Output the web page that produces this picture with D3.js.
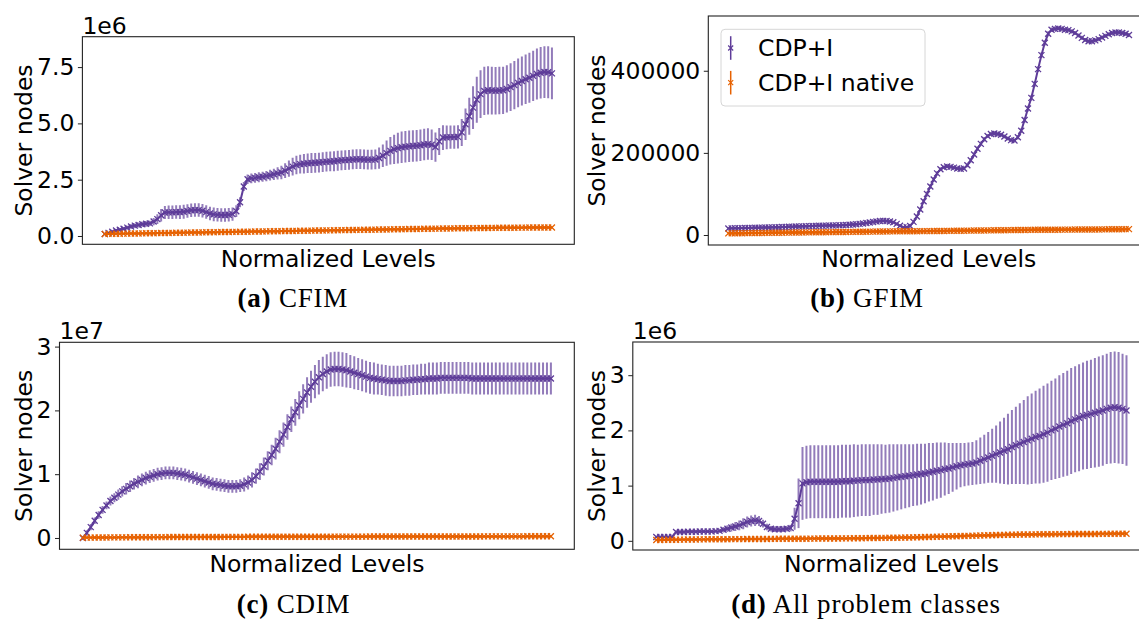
<!DOCTYPE html>
<html>
<head>
<meta charset="utf-8">
<script src="https://cdn.jsdelivr.net/npm/d3@7"></script>
<style>
  body { margin: 0; background: #fff; }
  svg { display: block; }
</style>
</head>
<body>
<svg id="fig" width="1139" height="619"></svg>
<script>
// ---- data -------------------------------------------------------------
// 120 normalized levels per problem class; mean solver nodes and std dev.
const N = 120;
const levels = d3.range(N);

// (a) CFIM, values in thousands of nodes
const cfimUnit = 1e3;
const cfimMean = [
  90,140,190,240,280,320,370,420,460,490,
  520,540,560,640,750,920,1040,1050,1050,1060,
  1060,1080,1110,1140,1150,1150,1120,1060,1000,960,
  940,930,930,940,970,1100,1500,2200,2520,2560,
  2580,2610,2630,2660,2700,2740,2780,2820,2900,2990,
  3080,3150,3190,3210,3230,3240,3250,3260,3280,3300,
  3310,3320,3340,3360,3370,3380,3400,3410,3410,3400,
  3390,3390,3400,3460,3560,3680,3780,3850,3900,3940,
  3960,3980,4000,4010,4030,4060,4080,4050,3950,4200,
  4370,4380,4390,4390,4400,4600,4960,5320,5700,6050,
  6300,6440,6470,6460,6450,6460,6470,6530,6610,6700,
  6800,6880,6960,7030,7110,7190,7250,7280,7270,7220];
const cfimStd = [
  40,50,60,70,80,80,90,100,100,110,
  110,120,120,160,220,280,290,300,300,300,
  310,310,300,300,300,300,300,300,300,300,
  300,300,300,300,290,260,220,200,210,220,
  220,220,220,230,240,250,270,300,330,360,
  390,410,420,430,430,440,440,440,440,440,
  440,440,440,440,440,440,440,440,440,440,
  440,440,440,470,500,560,610,650,680,700,
  700,700,700,700,700,700,700,680,650,600,
  550,530,520,520,520,600,700,820,950,1020,
  1060,1070,1070,1060,1050,1050,1050,1050,1060,1070,
  1080,1090,1100,1110,1120,1130,1140,1150,1150,1150];
const cfimNativeMean = [
  90,93,95,98,101,104,106,109,112,114,
  117,120,123,125,128,131,133,136,139,141,
  144,147,150,152,155,158,160,163,166,168,
  171,174,176,179,182,184,187,190,192,195,
  198,200,203,206,208,211,214,216,219,222,
  224,227,230,232,235,238,240,243,246,248,
  251,254,256,259,262,264,267,270,272,275,
  278,280,283,286,288,291,294,296,299,302,
  304,307,310,312,315,318,320,323,326,328,
  331,333,336,338,340,343,345,347,349,351,
  353,355,357,359,361,363,364,366,367,369,
  370,371,373,374,375,376,377,378,379,380];
const cfimNativeStd = [
  15,15,16,16,17,17,18,18,19,19,
  20,20,21,21,22,22,23,23,24,24,
  25,25,25,26,26,26,27,27,27,28,
  28,28,29,29,29,30,30,30,30,31,
  31,31,31,32,32,32,32,33,33,33,
  33,34,34,34,34,35,35,35,35,35,
  36,36,36,36,36,37,37,37,37,37,
  38,38,38,38,38,38,39,39,39,39,
  39,39,40,40,40,40,40,40,40,41,
  41,41,41,41,41,41,42,42,42,42,
  42,42,42,42,43,43,43,43,43,43,
  43,43,44,44,44,44,44,44,44,44];

// (b) GFIM, values in thousands of nodes
const gfimUnit = 1e3;
const gfimMean = [
  16.0,16.2,16.4,16.6,16.8,17.0,17.2,17.4,17.6,17.8,
  18.0,18.2,18.4,18.6,18.8,19.0,19.3,19.6,19.9,20.2,
  20.5,20.8,21.1,21.4,21.7,22.0,22.3,22.5,22.7,22.9,
  23.1,23.3,23.5,23.8,24.1,24.5,25.0,25.6,26.3,27.0,
  28.0,29.2,30.5,31.8,33.0,34.0,34.4,34.0,33.0,31.0,
  27.0,22.5,18.5,19.0,22.0,32.0,45.0,62.0,82.0,100.0,
  118.0,135.0,150.0,160.0,165.0,167.0,166.0,164.0,162.0,161.0,
  162.0,170.0,182.0,196.0,210.0,222.0,233.0,241.0,246.0,247.0,
  246.0,244.0,240.0,235.0,231.0,230.0,238.0,254.0,280.0,308.0,
  334.0,368.0,404.0,438.0,468.0,490.0,500.0,502.0,503.0,502.0,
  500.0,499.0,496.0,492.0,486.0,480.0,475.0,472.0,472.0,474.0,
  477.0,481.0,485.0,489.0,492.0,493.0,493.0,492.0,490.0,487.0];
const gfimStd = [
  2.0,2.0,2.0,2.1,2.1,2.1,2.2,2.2,2.2,2.3,
  2.3,2.3,2.4,2.4,2.4,2.5,2.5,2.5,2.6,2.6,
  2.6,2.7,2.7,2.7,2.8,2.8,2.8,2.9,2.9,2.9,
  3.0,3.0,3.0,3.1,3.1,3.2,3.2,3.3,3.4,3.5,
  3.6,3.7,3.8,3.9,4.0,4.0,4.0,4.0,3.9,3.8,
  3.6,3.3,3.0,3.2,3.5,4.0,4.5,5.0,5.5,6.0,
  6.0,6.0,5.5,5.0,4.5,4.5,4.5,4.5,4.5,4.5,
  4.5,5.0,5.5,5.5,5.5,5.5,5.5,5.0,5.0,5.0,
  5.0,5.0,5.0,5.0,5.0,5.0,5.5,6.0,6.5,7.0,
  7.0,7.0,7.0,7.0,6.5,6.0,5.5,5.0,5.0,5.0,
  5.0,5.0,5.0,5.0,5.0,5.0,5.0,5.0,5.0,5.0,
  5.0,5.0,5.0,5.0,5.0,5.0,5.0,5.0,5.0,5.0];
const gfimNativeMean = [
  4.0,4.1,4.2,4.3,4.4,4.5,4.6,4.7,4.8,4.9,
  5.0,5.1,5.2,5.3,5.4,5.5,5.6,5.7,5.8,5.9,
  6.0,6.1,6.2,6.3,6.4,6.5,6.6,6.7,6.8,6.9,
  7.0,7.1,7.2,7.3,7.4,7.5,7.6,7.7,7.8,7.9,
  8.0,8.1,8.2,8.3,8.4,8.5,8.6,8.7,8.8,8.9,
  9.0,9.1,9.1,9.2,9.2,9.3,9.3,9.4,9.4,9.5,
  9.5,9.6,9.7,9.8,9.9,10.0,10.1,10.2,10.3,10.4,
  10.5,10.6,10.7,10.8,10.9,11.0,11.1,11.2,11.3,11.4,
  11.5,11.6,11.7,11.8,11.9,12.0,12.1,12.2,12.3,12.4,
  12.5,12.6,12.6,12.7,12.7,12.8,12.8,12.9,12.9,13.0,
  13.0,13.1,13.1,13.2,13.2,13.3,13.3,13.4,13.5,13.6,
  13.6,13.7,13.8,13.9,14.0,14.0,14.1,14.2,14.3,14.4];
const gfimNativeStd = [
  3.0,3.0,3.0,3.0,3.1,3.1,3.1,3.1,3.1,3.2,
  3.2,3.2,3.2,3.2,3.2,3.3,3.3,3.3,3.3,3.3,
  3.3,3.3,3.4,3.4,3.4,3.4,3.4,3.4,3.4,3.4,
  3.5,3.5,3.5,3.5,3.5,3.5,3.5,3.5,3.5,3.5,
  3.5,3.6,3.6,3.6,3.6,3.6,3.6,3.6,3.6,3.6,
  3.6,3.6,3.6,3.7,3.7,3.7,3.7,3.7,3.7,3.7,
  3.7,3.7,3.7,3.7,3.7,3.8,3.8,3.8,3.8,3.8,
  3.8,3.8,3.8,3.8,3.8,3.8,3.8,3.9,3.9,3.9,
  3.9,3.9,3.9,3.9,3.9,3.9,3.9,3.9,3.9,3.9,
  4.0,4.0,4.0,4.0,4.0,4.0,4.0,4.0,4.0,4.0,
  4.0,4.0,4.0,4.0,4.0,4.0,4.0,4.0,4.0,4.0,
  4.0,4.0,4.0,4.0,4.0,4.0,4.0,4.0,4.0,4.0];

// (c) CDIM, values in hundreds of thousands of nodes
const cdimUnit = 1e5;
const cdimMean = [
  0,8,17,27,36,44,51,58,63,68,
  73,77,81,85,88,91,94,96,98,100,
  101,102,102,102,101,100,99,97,95,93,
  91,89,87,85,84,83,82,81,81,81,
  82,84,87,91,97,104,112,121,130,140,
  151,162,174,186,197,208,218,228,237,245,
  252,257,261,264,265,265,264,263,261,259,
  257,255,253,251,250,249,248,247,246,246,
  246,246,247,247,248,248,249,249,250,250,
  250,251,251,251,251,251,251,251,251,250,
  250,250,250,250,250,250,250,250,250,250,
  250,250,250,250,250,250,250,250,250,250];
const cdimStd = [
  3,4,5,5,6,6,6,7,7,8,
  8,9,9,9,10,10,10,10,10,10,
  10,10,10,10,10,10,10,10,10,10,
  10,10,10,10,10,10,10,10,10,10,
  10,11,11,12,12,13,14,15,16,17,
  18,19,20,20,21,22,23,24,25,26,
  27,27,27,27,27,27,27,27,26,26,
  25,25,25,25,25,24,24,24,24,24,
  24,24,24,24,24,24,24,24,25,25,
  25,25,25,25,25,25,25,25,25,25,
  25,25,25,25,25,25,25,25,25,25,
  25,25,25,25,25,25,25,25,25,25];
const cdimNativeMean = [
  0.5,0.6,0.6,0.7,0.7,0.8,0.8,0.9,0.9,1.0,
  1.0,1.0,1.1,1.1,1.1,1.2,1.2,1.2,1.3,1.3,
  1.3,1.3,1.4,1.4,1.4,1.4,1.5,1.5,1.5,1.5,
  1.5,1.6,1.6,1.6,1.6,1.6,1.7,1.7,1.7,1.7,
  1.7,1.7,1.8,1.8,1.8,1.8,1.8,1.8,1.8,1.9,
  1.9,1.9,1.9,1.9,1.9,1.9,2.0,2.0,2.0,2.0,
  2.0,2.0,2.0,2.0,2.1,2.1,2.1,2.1,2.1,2.1,
  2.1,2.1,2.1,2.2,2.2,2.2,2.2,2.2,2.2,2.2,
  2.2,2.2,2.3,2.3,2.3,2.3,2.3,2.3,2.3,2.3,
  2.3,2.3,2.4,2.4,2.4,2.4,2.4,2.4,2.4,2.4,
  2.4,2.4,2.5,2.5,2.5,2.5,2.5,2.5,2.5,2.5,
  2.5,2.5,2.5,2.6,2.6,2.6,2.6,2.6,2.6,2.6];
const cdimNativeStd = [
  1.0,1.0,1.0,1.1,1.1,1.1,1.2,1.2,1.2,1.3,
  1.3,1.3,1.3,1.4,1.4,1.4,1.4,1.5,1.5,1.5,
  1.5,1.5,1.6,1.6,1.6,1.6,1.6,1.6,1.7,1.7,
  1.7,1.7,1.7,1.7,1.7,1.8,1.8,1.8,1.8,1.8,
  1.8,1.8,1.8,1.8,1.9,1.9,1.9,1.9,1.9,1.9,
  1.9,1.9,1.9,1.9,1.9,2.0,2.0,2.0,2.0,2.0,
  2.0,2.0,2.0,2.0,2.0,2.0,2.0,2.0,2.0,2.0,
  2.0,2.0,2.0,2.0,2.0,2.0,2.0,2.0,2.0,2.0,
  2.0,2.0,2.0,2.0,2.0,2.0,2.0,2.0,2.0,2.0,
  2.0,2.0,2.0,2.0,2.0,2.0,2.0,2.0,2.0,2.0,
  2.0,2.0,2.0,2.0,2.0,2.0,2.0,2.0,2.0,2.0,
  2.0,2.0,2.0,2.0,2.0,2.0,2.0,2.0,2.0,2.0];

// (d) all problem classes, values in tens of thousands of nodes
const allUnit = 1e4;
const allMean = [
  7,7,7,7,7,16,16,16,16.5,16.5,
  16.5,17,17,17,17,17.5,18,20,22,24,
  26,28,31,34,36,37,36,31,25,22,
  21,21,21,22,23,40,68,104,106,107,
  107,107,107,107,107,107,107,108,108,108,
  109,109,110,110,110,111,111,112,112,113,
  114,115,116,117,118,119,120,121,122,124,
  125,127,128,130,131,133,135,137,138,139,
  140,142,145,148,151,154,157,160,163,166,
  170,173,176,179,182,185,188,190,193,196,
  200,203,207,210,213,217,220,223,226,228,
  230,232,234,236,239,241,242,241,239,236];
const allStd = [
  2,2,2,2,2,3,3,3,3,3,
  3,3,3,3,3,3,4,5,6,7,
  8,9,10,10,10,10,9,7,6,5,
  5,5,5,5,6,20,45,66,66,66,
  66,66,66,66,66,66,66,66,66,66,
  66,65,65,65,65,64,64,63,62,62,
  61,60,59,58,57,56,56,55,54,53,
  52,51,50,48,46,44,42,40,39,39,
  39,40,42,44,46,49,52,56,60,64,
  67,70,73,76,80,82,84,86,88,89,
  90,91,93,94,95,96,96,97,97,98,
  98,99,100,100,100,101,101,101,100,100];
const allNativeMean = [
  1.5,1.6,1.7,1.8,1.9,2.0,2.1,2.2,2.3,2.4,
  2.5,2.6,2.6,2.7,2.7,2.8,2.8,2.9,2.9,3.0,
  3.0,3.1,3.1,3.2,3.2,3.3,3.3,3.4,3.4,3.5,
  3.5,3.6,3.6,3.7,3.7,3.8,3.8,3.9,3.9,4.0,
  4.0,4.1,4.1,4.2,4.2,4.3,4.3,4.4,4.4,4.5,
  4.6,4.7,4.8,4.9,5.0,5.1,5.2,5.3,5.4,5.5,
  5.6,5.7,5.8,5.9,6.0,6.2,6.4,6.6,6.8,7.0,
  7.2,7.4,7.6,7.8,8.0,8.2,8.4,8.6,8.8,9.0,
  9.2,9.4,9.6,9.8,10.0,10.2,10.4,10.6,10.8,11.0,
  11.1,11.2,11.3,11.4,11.5,11.6,11.7,11.8,11.9,12.0,
  12.0,12.1,12.1,12.2,12.2,12.3,12.3,12.4,12.4,12.5,
  12.5,12.5,12.6,12.6,12.6,12.7,12.7,12.7,12.8,12.8];
const allNativeStd = [
  1.0,1.0,1.0,1.1,1.1,1.1,1.1,1.2,1.2,1.2,
  1.2,1.2,1.3,1.3,1.3,1.3,1.3,1.4,1.4,1.4,
  1.4,1.4,1.4,1.5,1.5,1.5,1.5,1.5,1.5,1.6,
  1.6,1.6,1.6,1.6,1.6,1.6,1.7,1.7,1.7,1.7,
  1.7,1.7,1.7,1.8,1.8,1.8,1.8,1.8,1.8,1.8,
  1.9,1.9,1.9,1.9,1.9,1.9,1.9,2.0,2.0,2.0,
  2.0,2.0,2.0,2.1,2.1,2.1,2.1,2.1,2.2,2.2,
  2.2,2.2,2.2,2.3,2.3,2.3,2.3,2.3,2.4,2.4,
  2.4,2.4,2.4,2.5,2.5,2.5,2.5,2.5,2.5,2.5,
  2.5,2.5,2.5,2.5,2.5,2.5,2.5,2.5,2.5,2.5,
  2.5,2.5,2.5,2.5,2.5,2.5,2.5,2.5,2.5,2.5,
  2.5,2.5,2.5,2.5,2.5,2.5,2.5,2.5,2.5,2.5];

// y tick values and their labels (scaled by the offset text)
const cfimTicks = [0, 2.5e6, 5e6, 7.5e6];
const cfimTickLabels = ["0.0", "2.5", "5.0", "7.5"];
const gfimTicks = [0, 200000, 400000];
const gfimTickLabels = ["0", "200000", "400000"];
const cdimTicks = [0, 1e7, 2e7, 3e7];
const cdimTickLabels = ["0", "1", "2", "3"];
const allTicks = [0, 1e6, 2e6, 3e6];
const allTickLabels = ["0", "1", "2", "3"];

const seriesNames = ["CDP+I", "CDP+I native"];
const colors = ["#5e3c99", "#e66101"];

// ---- layout -------------------------------------------------------------
const panels = [
  { tag: "(a)", title: "CFIM", unit: cfimUnit,
    mean: cfimMean, std: cfimStd, nMean: cfimNativeMean, nStd: cfimNativeStd,
    ticks: cfimTicks, labels: cfimTickLabels, offset: "1e6",
    box: { l: 82.4, t: 36.7, r: 574.3, b: 244.3 }, yLabelX: 32, capX: 292.8, capY: 307, xLabY: 266.5 },
  { tag: "(b)", title: "GFIM", unit: gfimUnit,
    mean: gfimMean, std: gfimStd, nMean: gfimNativeMean, nStd: gfimNativeStd,
    ticks: gfimTicks, labels: gfimTickLabels, offset: null, legend: true,
    box: { l: 708.3, t: 16, r: 1149, b: 245 }, yLabelX: 605, capX: 867, capY: 307, xLabY: 266.5 },
  { tag: "(c)", title: "CDIM", unit: cdimUnit,
    mean: cdimMean, std: cdimStd, nMean: cdimNativeMean, nStd: cdimNativeStd,
    ticks: cdimTicks, labels: cdimTickLabels, offset: "1e7",
    box: { l: 59.5, t: 342.3, r: 574.3, b: 549.3 }, yLabelX: 32, capX: 293.6, capY: 612.5, xLabY: 571.5 },
  { tag: "(d)", title: "All problem classes", unit: allUnit,
    mean: allMean, std: allStd, nMean: allNativeMean, nStd: allNativeStd,
    ticks: allTicks, labels: allTickLabels, offset: "1e6",
    box: { l: 632.8, t: 342, r: 1150, b: 550 }, yLabelX: 605, capX: 866, capY: 612.5, xLabY: 571.5 }
];

const SANS = "'DejaVu Sans', sans-serif";
const SERIF = "'Liberation Serif', 'Times New Roman', serif";
const FS = 23.5;

const svg = d3.select("#fig");
svg.append("rect").attr("width", 1139).attr("height", 619).attr("fill", "#fff");

const xMarker = s => `M${-s},${-s}L${s},${s}M${-s},${s}L${s},${-s}`;

function drawSeries(g, x, y, mean, std, unit, color) {
  const pts = levels.map(i => ({ i, m: mean[i] * unit, s: std[i] * unit }));
  g.append("g").selectAll("line").data(pts).join("line")
    .attr("x1", d => x(d.i)).attr("x2", d => x(d.i))
    .attr("y1", d => y(d.m - d.s)).attr("y2", d => y(d.m + d.s))
    .attr("stroke", color).attr("stroke-width", 2).attr("stroke-opacity", 0.68);
  g.append("path").datum(pts)
    .attr("d", d3.line().x(d => x(d.i)).y(d => y(d.m)))
    .attr("fill", "none").attr("stroke", color).attr("stroke-width", 2);
  g.append("g").selectAll("path").data(pts).join("path")
    .attr("transform", d => `translate(${x(d.i)},${y(d.m)})`)
    .attr("d", xMarker(3))
    .attr("fill", "none").attr("stroke", color).attr("stroke-width", 1.3);
}

panels.forEach((p, k) => {
  const { l, t, r, b } = p.box;
  const g = svg.append("g");

  const x = d3.scaleLinear().domain([-0.05 * (N - 1), 1.05 * (N - 1)]).range([l, r]);

  // y range follows the data with a 5% margin on both ends
  const lows = levels.flatMap(i => [(p.mean[i] - p.std[i]) * p.unit, (p.nMean[i] - p.nStd[i]) * p.unit]);
  const highs = levels.flatMap(i => [(p.mean[i] + p.std[i]) * p.unit, (p.nMean[i] + p.nStd[i]) * p.unit]);
  const lo = d3.min(lows), hi = d3.max(highs), pad = 0.05 * (hi - lo);
  const y = d3.scaleLinear().domain([lo - pad, hi + pad]).range([b, t]);

  const clipId = `clip-${k}`;
  g.append("clipPath").attr("id", clipId)
    .append("rect").attr("x", l).attr("y", t).attr("width", r - l).attr("height", b - t);

  const plot = g.append("g").attr("clip-path", `url(#${clipId})`);
  drawSeries(plot, x, y, p.mean, p.std, p.unit, colors[0]);
  drawSeries(plot, x, y, p.nMean, p.nStd, p.unit, colors[1]);

  // frame
  g.append("rect").attr("x", l).attr("y", t).attr("width", r - l).attr("height", b - t)
    .attr("fill", "none").attr("stroke", "#222").attr("stroke-width", 1.1);

  // y axis
  const ax = g.append("g").attr("transform", `translate(${l},0)`)
    .call(d3.axisLeft(y).tickValues(p.ticks).tickFormat((d, i) => p.labels[i])
      .tickSize(4.5).tickPadding(3.5));
  ax.select(".domain").remove();
  ax.selectAll(".tick line").attr("stroke", "#222").attr("stroke-width", 1);
  ax.selectAll(".tick text").attr("font-family", SANS).attr("font-size", FS).attr("fill", "#000");

  if (p.offset) {
    g.append("text").attr("x", l).attr("y", t - 3)
      .attr("font-family", SANS).attr("font-size", FS).text(p.offset);
  }

  g.append("text")
    .attr("transform", `translate(${p.yLabelX},${(t + b) / 2}) rotate(-90)`)
    .attr("text-anchor", "middle")
    .attr("font-family", SANS).attr("font-size", FS).text("Solver nodes");

  g.append("text").attr("x", (l + r) / 2).attr("y", p.xLabY)
    .attr("text-anchor", "middle")
    .attr("font-family", SANS).attr("font-size", FS).text("Normalized Levels");

  const cap = g.append("text").attr("x", p.capX).attr("y", p.capY)
    .attr("text-anchor", "middle").attr("font-family", SERIF).attr("font-size", 27)
    .attr("letter-spacing", 0.8);
  cap.append("tspan").attr("font-weight", "bold").text(p.tag);
  cap.append("tspan").text(" " + p.title);

  if (p.legend) {
    const lg = g.append("g");
    lg.append("rect").attr("x", 721).attr("y", 29.3).attr("width", 204).attr("height", 76.7)
      .attr("rx", 4).attr("fill", "#fff").attr("fill-opacity", 0.8)
      .attr("stroke", "#d6d6d6").attr("stroke-width", 1);
    seriesNames.forEach((name, j) => {
      const cy = 48 + j * 34.7;
      lg.append("line").attr("x1", 730.7).attr("x2", 730.7)
        .attr("y1", cy - 11.8).attr("y2", cy + 11.8)
        .attr("stroke", colors[j]).attr("stroke-width", 1.5);
      lg.append("path").attr("transform", `translate(730.7,${cy})`).attr("d", xMarker(2.5))
        .attr("fill", "none").attr("stroke", colors[j]).attr("stroke-width", 1.2);
      lg.append("text").attr("x", 758).attr("y", cy + 8.4)
        .attr("font-family", SANS).attr("font-size", FS).text(name);
    });
  }
});
</script>
</body>
</html>
